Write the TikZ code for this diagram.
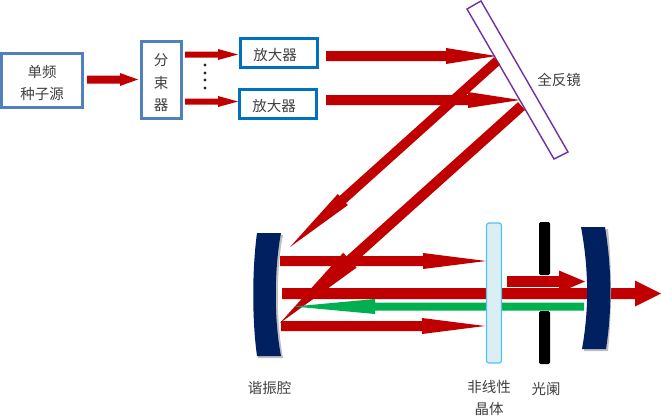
\documentclass[tikz,border=0pt]{standalone}
\usepackage{fontspec}
\setmainfont{Noto Sans CJK SC}
\usetikzlibrary{calc}
\definecolor{beam}{HTML}{C00000}
\definecolor{beamg}{HTML}{00B050}
\definecolor{navy}{HTML}{002060}
\definecolor{boxa}{HTML}{4F81BD}
\definecolor{boxb}{HTML}{0070C0}
\definecolor{crys}{HTML}{DAEEF3}
\definecolor{crysb}{HTML}{4FC3F7}
\definecolor{mirp}{HTML}{7030A0}
\definecolor{txt}{HTML}{404040}
\tikzset{
  lbl/.style={text=txt,font=\fontsize{14.5}{22}\selectfont,align=center,inner sep=0pt},
  box/.style={draw=boxa,line width=3pt,fill=white,inner sep=0pt,outer sep=0pt,anchor=north west},
  ampbox/.style={draw=boxb,line width=3.2pt,fill=white,inner sep=0pt,outer sep=0pt,anchor=north west},
  mirrorshade/.style={fill=black!25},
  stopbar/.style={fill=black,rounded corners=1.5pt},
}
% colour, start, tip, half shaft, half head, head length
\newcommand{\blockarrow}[6][beam]{%
  \coordinate (arrowbase) at ($(#3)!#6pt!(#2)$);
  \fill[#1] ($(#2)!#4pt!90:(#3)$) -- ($(arrowbase)!#4pt!-90:(#2)$)
    -- ($(arrowbase)!#5pt!-90:(#2)$) -- (#3) -- ($(arrowbase)!#5pt!90:(#2)$)
    -- ($(arrowbase)!#4pt!90:(#2)$) -- ($(#2)!#4pt!-90:(#3)$) -- cycle;
}
\begin{document}
\begin{tikzpicture}[x=1pt,y=-1pt]
\useasboundingbox (0,0) rectangle (661,416);
% boxes
\node[box,minimum width=81pt,minimum height=54pt] (seed) at (1.5,53.5) {};
\node[lbl] at (42,82.5) {单频\\种子源};
\node[box,minimum width=40pt,minimum height=77pt] (split) at (141.5,41.5) {};
\node[lbl] at (161,60) {分};
\node[lbl] at (161,83) {束};
\node[lbl] at (161,105) {器};
\node[ampbox,minimum width=77pt,minimum height=29pt] (ampa) at (240.5,38.5) {};
\node[lbl] at (275,55) {放大器};
\node[ampbox,minimum width=77pt,minimum height=29pt] (ampb) at (239.5,89.5) {};
\node[lbl] at (274,105.5) {放大器};
% coordinates
\coordinate (sA) at (87,79.5); \coordinate (sB) at (138,79.5);
\coordinate (uA) at (185,54.5); \coordinate (uB) at (238,54.5);
\coordinate (lA) at (185,101.5); \coordinate (lB) at (238,101.5);
\coordinate (tA) at (326,56); \coordinate (tB) at (496,56);
\coordinate (bA) at (326,100); \coordinate (bB) at (520,100);
\coordinate (dA) at (497,61); \coordinate (dB) at (290,247);
\coordinate (eA) at (521.5,106); \coordinate (eB) at (280,323);
\coordinate (hA) at (280,261); \coordinate (hB) at (486,261);
\coordinate (iA) at (281,326); \coordinate (iB) at (485,326);
\coordinate (mA) at (282,293.5); \coordinate (mB) at (661,293.5);
\coordinate (gA) at (584,306.5); \coordinate (gB) at (294,306.5);
\coordinate (kA) at (507,281.5); \coordinate (kB) at (585,281.5);
% seed section arrows
\blockarrow{sA}{sB}{4}{6.5}{18}
\blockarrow{uA}{uB}{3}{5.5}{20}
\blockarrow{lA}{lB}{3}{5.5}{20}
\foreach \yy [count=\i] in {65,73,80,88} \fill[black!85] (205,\yy) circle (1.7) coordinate (dot\i);
% mirror
\draw[mirp,line width=1.4pt] (467,9) -- (481,1) -- (568,152) -- (554,159) -- cycle;
\node[lbl] at (559,80) {全反镜};
% long beams
\blockarrow{tA}{tB}{5}{8}{50}
\blockarrow{bA}{bB}{5}{8}{52}
\blockarrow{dA}{dB}{4.8}{7.5}{71}
\blockarrow{eA}{eB}{5.2}{10}{94}
\blockarrow{hA}{hB}{5}{8}{63}
\blockarrow{iA}{iB}{5}{8}{63}
\blockarrow{mA}{mB}{5.5}{13}{26}
\blockarrow[beamg]{gA}{gB}{4}{7.5}{81}
% crystal, stops
\draw[fill=crys,draw=crysb,line width=1.2pt,rounded corners=2.5pt] (486.5,223) rectangle (501.5,363);
\path[stopbar] (539,222) rectangle (550,275);
\path[stopbar] (539,311) rectangle (550,364);
\blockarrow{kA}{kB}{5.3}{11}{26}
% cavity mirrors
\fill[mirrorshade] (258,235) .. controls (253,270) and (253,320) .. (258,358) -- (283,358) .. controls (276,320) and (276,270) .. (283,235) -- cycle;
\fill[navy] (257,233) .. controls (252,270) and (252,320) .. (257,356) -- (281,356) .. controls (274,320) and (274,270) .. (281,233) -- cycle;
\fill[mirrorshade] (584,229) .. controls (590,270) and (590,310) .. (584,351) -- (608,351) .. controls (612,310) and (612,270) .. (608,229) -- cycle;
\fill[navy] (581,227) .. controls (589,270) and (589,310) .. (582,349) -- (606,349) .. controls (612,310) and (612,270) .. (605,227) -- cycle;
% labels
\node[lbl] at (269.5,388) {谐振腔};
\node[lbl] at (489,398) {非线性\\晶体};
\node[lbl] at (546,389) {光阑};
\end{tikzpicture}
\end{document}
